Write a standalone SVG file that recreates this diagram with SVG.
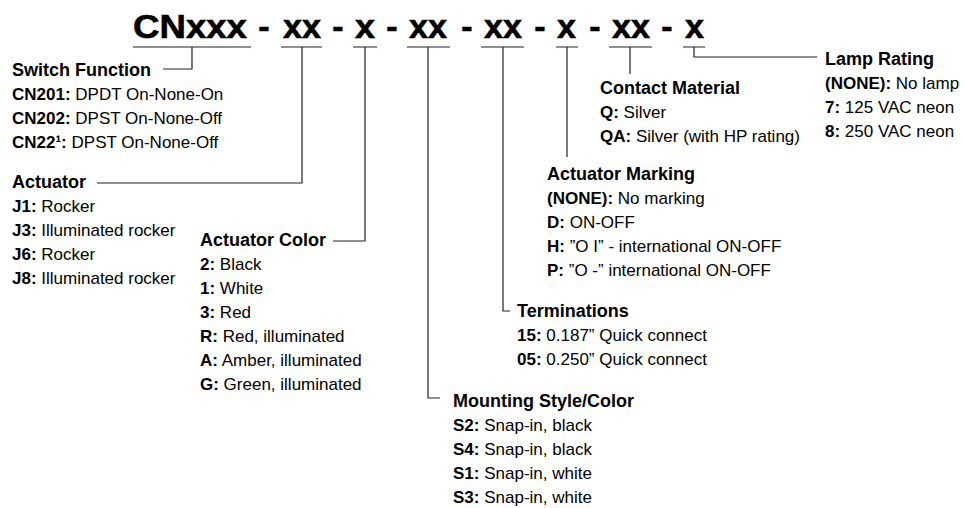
<svg xmlns="http://www.w3.org/2000/svg" width="965" height="508" viewBox="0 0 965 508">
<style>
text{font-family:"Liberation Sans",Arial,sans-serif;fill:#000}
.t{font-size:34px;font-weight:bold;stroke:#000;stroke-width:0.6}
.d{font-size:34px;font-weight:bold;text-anchor:middle;stroke:#000;stroke-width:0.6}
.h{font-size:18px;font-weight:bold}
.i{font-size:17px}
.b{font-weight:bold}
.ln{fill:none;stroke:#222;stroke-width:1.2}
</style>
<rect width="965" height="508" fill="#fff"/>
<g id="title">
<text class="t" x="133" y="38" textLength="114" lengthAdjust="spacingAndGlyphs">CNxxx</text>
<text class="d" x="264" y="38">-</text>
<text class="t" x="283" y="38" textLength="38" lengthAdjust="spacingAndGlyphs">xx</text>
<text class="d" x="338" y="38">-</text>
<text class="t" x="355" y="38" textLength="20" lengthAdjust="spacingAndGlyphs">x</text>
<text class="d" x="392" y="38">-</text>
<text class="t" x="409" y="38" textLength="38" lengthAdjust="spacingAndGlyphs">xx</text>
<text class="d" x="467" y="38">-</text>
<text class="t" x="484" y="38" textLength="38" lengthAdjust="spacingAndGlyphs">xx</text>
<text class="d" x="540" y="38">-</text>
<text class="t" x="557" y="38" textLength="19" lengthAdjust="spacingAndGlyphs">x</text>
<text class="d" x="595" y="38">-</text>
<text class="t" x="612" y="38" textLength="38" lengthAdjust="spacingAndGlyphs">xx</text>
<text class="d" x="667" y="38">-</text>
<text class="t" x="685" y="38" textLength="19" lengthAdjust="spacingAndGlyphs">x</text>
<path class="ln" d="M133,47H251M281,47H322M353,47H377M407,47H450M481,47H524M556,47H578M609,47H652M683,47H705"/>
</g>
<g id="connectors">
<path class="ln" d="M192,47V69H163"/>
<path class="ln" d="M302,47V183H97"/>
<path class="ln" d="M365,47V241H333"/>
<path class="ln" d="M428,47V398H440"/>
<path class="ln" d="M503,47V311H510"/>
<path class="ln" d="M567,47V157"/>
<path class="ln" d="M630,47V74"/>
<path class="ln" d="M694,47V57H817"/>
</g>
<g id="switch-function">
<text class="h" x="12" y="76">Switch Function</text>
<text class="i" x="12" y="99.5"><tspan class="b">CN201:</tspan> DPDT On-None-On</text>
<text class="i" x="12" y="123.5"><tspan class="b">CN202:</tspan> DPST On-None-Off</text>
<text class="i" x="12" y="147.5"><tspan class="b">CN22¹:</tspan> DPST On-None-Off</text>
</g>
<g id="actuator">
<text class="h" x="12" y="188">Actuator</text>
<text class="i" x="12" y="212"><tspan class="b">J1:</tspan> Rocker</text>
<text class="i" x="12" y="236"><tspan class="b">J3:</tspan> Illuminated rocker</text>
<text class="i" x="12" y="260"><tspan class="b">J6:</tspan> Rocker</text>
<text class="i" x="12" y="284"><tspan class="b">J8:</tspan> Illuminated rocker</text>
</g>
<g id="actuator-color">
<text class="h" x="200" y="246">Actuator Color</text>
<text class="i" x="200" y="270"><tspan class="b">2:</tspan> Black</text>
<text class="i" x="200" y="294"><tspan class="b">1:</tspan> White</text>
<text class="i" x="200" y="318"><tspan class="b">3:</tspan> Red</text>
<text class="i" x="200" y="342"><tspan class="b">R:</tspan> Red, illuminated</text>
<text class="i" x="200" y="366"><tspan class="b">A:</tspan> Amber, illuminated</text>
<text class="i" x="200" y="390"><tspan class="b">G:</tspan> Green, illuminated</text>
</g>
<g id="mounting-style">
<text class="h" x="453" y="407">Mounting Style/Color</text>
<text class="i" x="453" y="431"><tspan class="b">S2:</tspan> Snap-in, black</text>
<text class="i" x="453" y="455"><tspan class="b">S4:</tspan> Snap-in, black</text>
<text class="i" x="453" y="479"><tspan class="b">S1:</tspan> Snap-in, white</text>
<text class="i" x="453" y="503"><tspan class="b">S3:</tspan> Snap-in, white</text>
</g>
<g id="terminations">
<text class="h" x="517" y="317">Terminations</text>
<text class="i" x="517" y="341"><tspan class="b">15:</tspan> 0.187” Quick connect</text>
<text class="i" x="517" y="365"><tspan class="b">05:</tspan> 0.250” Quick connect</text>
</g>
<g id="actuator-marking">
<text class="h" x="547" y="180">Actuator Marking</text>
<text class="i" x="547" y="204"><tspan class="b">(NONE):</tspan> No marking</text>
<text class="i" x="547" y="228"><tspan class="b">D:</tspan> ON-OFF</text>
<text class="i" x="547" y="252"><tspan class="b">H:</tspan> ”O I” - international ON-OFF</text>
<text class="i" x="547" y="276"><tspan class="b">P:</tspan> ”O -” international ON-OFF</text>
</g>
<g id="contact-material">
<text class="h" x="600" y="94">Contact Material</text>
<text class="i" x="600" y="118"><tspan class="b">Q:</tspan> Silver</text>
<text class="i" x="600" y="142"><tspan class="b">QA:</tspan> Silver (with HP rating)</text>
</g>
<g id="lamp-rating">
<text class="h" x="825" y="65">Lamp Rating</text>
<text class="i" x="825" y="89"><tspan class="b">(NONE):</tspan> No lamp</text>
<text class="i" x="825" y="113"><tspan class="b">7:</tspan> 125 VAC neon</text>
<text class="i" x="825" y="137"><tspan class="b">8:</tspan> 250 VAC neon</text>
</g>
</svg>
